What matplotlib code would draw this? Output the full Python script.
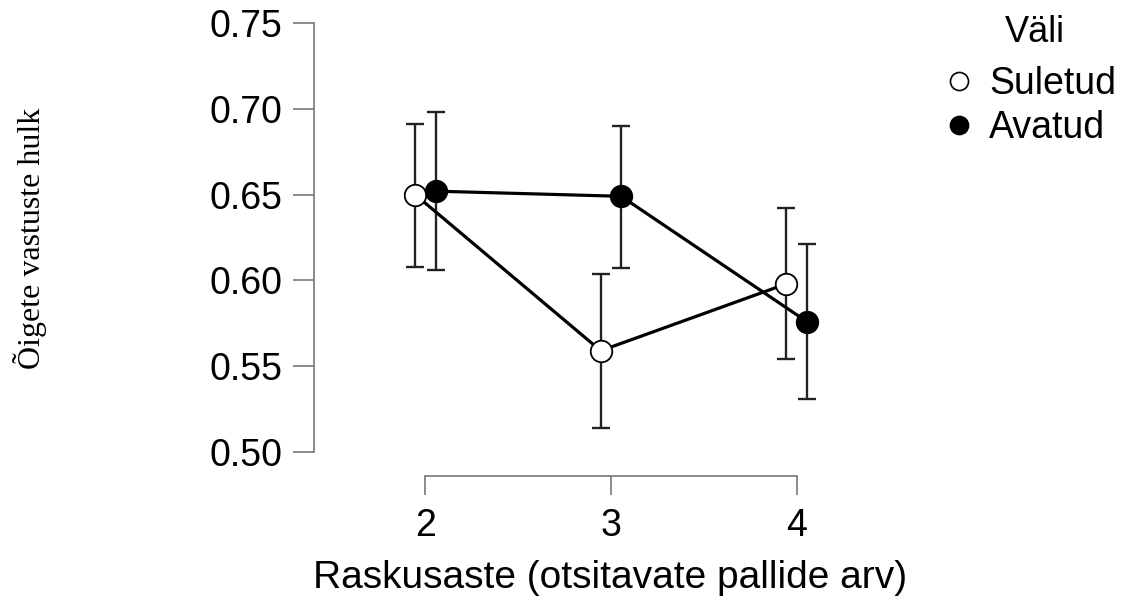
import numpy as np
import matplotlib.pyplot as plt
from matplotlib.lines import Line2D

# data
levels = [2, 3, 4]
groups = ['Suletud', 'Avatud']
means = {'Suletud': [0.650, 0.559, 0.598],
         'Avatud': [0.652, 0.649, 0.576]}
ci_low = {'Suletud': [0.608, 0.514, 0.554],
          'Avatud': [0.606, 0.607, 0.531]}
ci_high = {'Suletud': [0.691, 0.604, 0.642],
           'Avatud': [0.698, 0.690, 0.621]}
yticks = [0.50, 0.55, 0.60, 0.65, 0.70, 0.75]

faces = {'Suletud': 'white', 'Avatud': 'black'}
dodge = {'Suletud': -0.055, 'Avatud': 0.055}

plt.rcParams['font.family'] = ['Liberation Sans', 'DejaVu Sans']

fig = plt.figure(figsize=(11.24, 5.98), dpi=100)
ax = fig.add_axes([314 / 1124, 122 / 598, 516 / 1124, 453 / 598])

x = np.array(levels, dtype=float)
for g in groups:
    xs = x + dodge[g]
    m = np.array(means[g])
    lo = m - np.array(ci_low[g])
    hi = np.array(ci_high[g]) - m
    ax.errorbar(xs, m, yerr=[lo, hi], fmt='none', ecolor='#222222',
                elinewidth=1.7, capsize=6.5, capthick=1.7, zorder=1)
    ax.plot(xs, m, color='black', lw=2.3, zorder=2)
    ax.plot(xs, m, 'o', ms=15.5, mfc=faces[g], mec='black', mew=1.3, zorder=3)

ax.set_xlim(1.40, 4.18)
ax.set_ylim(0.486, 0.75)
ax.set_xticks(levels)
ax.set_yticks(yticks)
ax.set_yticklabels([f'{v:.2f}' for v in yticks])

for s in ['top', 'right']:
    ax.spines[s].set_visible(False)
ax.spines['left'].set_bounds(0.50, 0.75)
ax.spines['bottom'].set_bounds(2, 4)
for s in ['left', 'bottom']:
    ax.spines[s].set_color('#777777')
    ax.spines[s].set_linewidth(1.2)
ax.tick_params(axis='y', length=15, width=1.2, color='#777777', labelsize=27, pad=8)
ax.tick_params(axis='x', length=14, width=1.2, color='#777777', labelsize=27, pad=9)

fig.text(610 / 1124, 1 - 578 / 598, 'Raskusaste (otsitavate pallide arv)',
         fontsize=28, ha='center', va='center')
fig.text(30 / 1124, 1 - 238 / 598, 'Õigete vastuste hulk', rotation=90,
         family='Liberation Serif', fontsize=23, ha='center', va='center')

# legend: title drawn separately so the gap matches the reference
handles = [Line2D([], [], ls='none', marker='o', ms=13, mfc=faces[g],
                  mec='black', mew=1.2) for g in groups]
fig.text(1035 / 1124, 1 - 32 / 598, 'Väli', fontsize=26, ha='center', va='center')
fig.legend(handles, groups, loc='center left',
           bbox_to_anchor=(918 / 1124, 1 - 106 / 598), frameon=False,
           fontsize=27, handletextpad=0.2,
           labelspacing=0.2, borderpad=0, handlelength=1.2)

fig.savefig('out.png', dpi=100)
